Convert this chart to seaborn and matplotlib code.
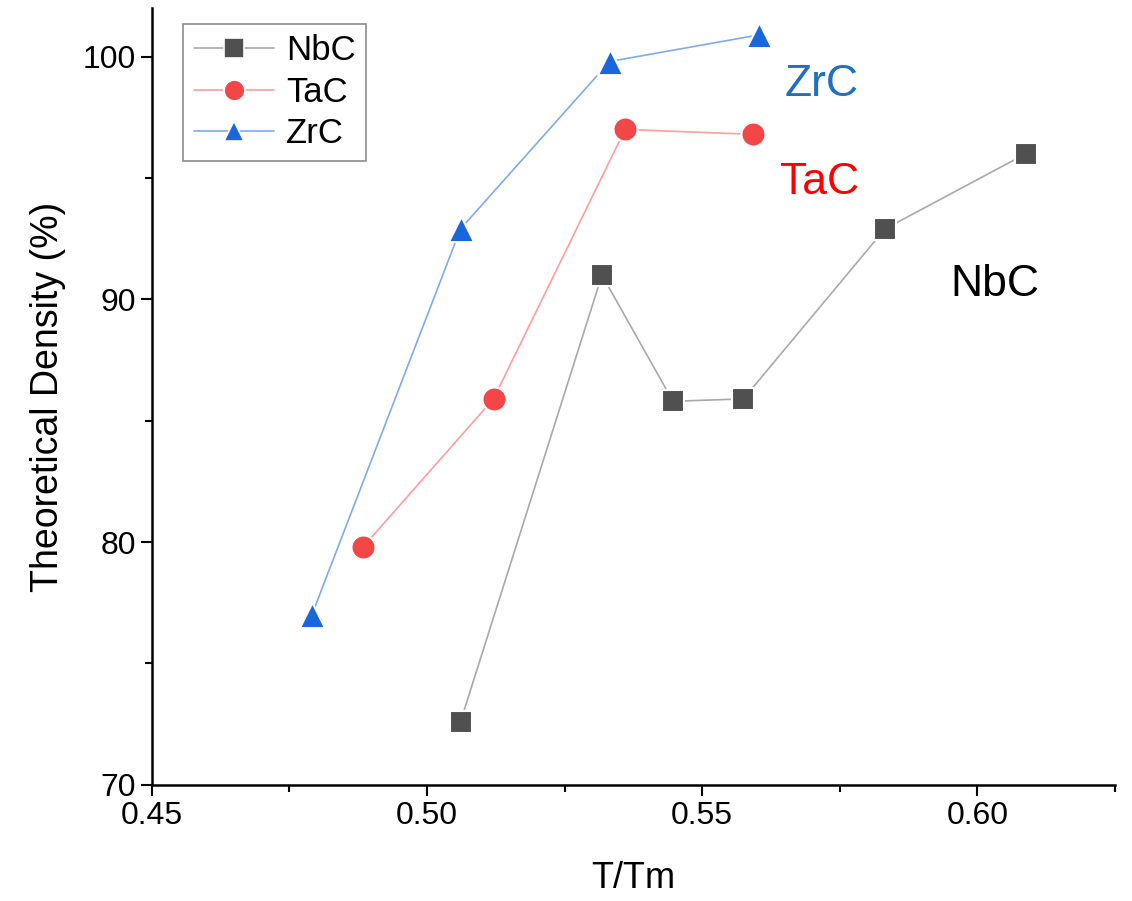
import numpy as np
import pandas as pd
import seaborn as sns
import matplotlib.pyplot as plt
from matplotlib.lines import Line2D
from matplotlib.ticker import MultipleLocator

# Data
nbc_x = [0.5061, 0.5318, 0.5447, 0.5575, 0.5832, 0.6088]
nbc_y = [72.6, 91.0, 85.8, 85.9, 92.9, 96.0]
tac_x = [0.4884, 0.5121, 0.5360, 0.5593]
tac_y = [79.8, 85.9, 97.0, 96.8]
zrc_x = [0.4791, 0.5061, 0.5332, 0.5604]
zrc_y = [77.0, 92.9, 99.8, 100.9]
series = ['NbC', 'TaC', 'ZrC']

# Style
sns.set_style("ticks")
plt.rcParams['font.family'] = ['Liberation Sans', 'DejaVu Sans']
plt.rcParams['text.color'] = 'black'
plt.rcParams['axes.labelcolor'] = 'black'

df = pd.concat([
    pd.DataFrame({'x': nbc_x, 'y': nbc_y, 'mat': 'NbC'}),
    pd.DataFrame({'x': tac_x, 'y': tac_y, 'mat': 'TaC'}),
    pd.DataFrame({'x': zrc_x, 'y': zrc_y, 'mat': 'ZrC'}),
], ignore_index=True)

line_pal = {'NbC': '#a9a9a9', 'TaC': '#ff9c9c', 'ZrC': '#7eaaee'}
mark_pal = {'NbC': '#505050', 'TaC': '#f34646', 'ZrC': '#1a66dc'}
marks = {'NbC': 's', 'TaC': 'o', 'ZrC': '^'}
msize = {'NbC': 240, 'TaC': 300, 'ZrC': 330}
text_col = {'NbC': 'black', 'TaC': '#ff0000', 'ZrC': '#1f6fc2'}

fig, ax = plt.subplots(figsize=(11.32, 9.01), dpi=100)
fig.subplots_adjust(left=0.134, right=0.985, bottom=0.129, top=0.991)

sns.lineplot(data=df, x='x', y='y', hue='mat', palette=line_pal,
             linewidth=1.2, legend=False, ax=ax, zorder=2)
for m in series:
    sub = df[df['mat'] == m]
    sns.scatterplot(data=sub, x='x', y='y', color=mark_pal[m], marker=marks[m],
                    s=msize[m], edgecolor='white', linewidth=1.5,
                    legend=False, ax=ax, zorder=3)

# Axes
ax.set_xlim(0.45, 0.625)
ax.set_ylim(70, 102)
ax.xaxis.set_major_locator(MultipleLocator(0.05))
ax.xaxis.set_minor_locator(MultipleLocator(0.025))
ax.yaxis.set_major_locator(MultipleLocator(10))
ax.yaxis.set_minor_locator(MultipleLocator(5))
ax.xaxis.set_major_formatter(plt.FuncFormatter(lambda v, p: f'{v:.2f}'))
sns.despine(ax=ax)
for s in ['left', 'bottom']:
    ax.spines[s].set_linewidth(1.8)
    ax.spines[s].set_color('black')
ax.tick_params(which='major', length=8, width=1.5, labelsize=23, colors='black')
ax.tick_params(which='minor', length=5, width=1.5, colors='black')
ax.set_xlabel('T/Tm', fontsize=26, labelpad=22)
ax.set_ylabel('Theoretical Density (%)', fontsize=27, labelpad=12)

# Labels beside the curves
ax.text(0.5649, 98.85, 'ZrC', color=text_col['ZrC'], fontsize=32, va='center')
ax.text(0.5642, 94.8, 'TaC', color=text_col['TaC'], fontsize=32, va='center')
ax.text(0.5950, 90.6, 'NbC', color=text_col['NbC'], fontsize=32, va='center')

# Legend
handles = [Line2D([0], [0], color=line_pal[m], lw=1.2, marker=marks[m],
                  markerfacecolor=mark_pal[m], markeredgecolor='white',
                  markeredgewidth=1.2, markersize=15) for m in series]
leg = ax.legend(handles, series, loc='upper left', bbox_to_anchor=(0.033, 0.98),
                fontsize=25, frameon=True, fancybox=False, handlelength=2.3,
                labelspacing=0.25, borderpad=0.3, handletextpad=0.35,
                borderaxespad=0)
leg.get_frame().set_edgecolor('#707070')
leg.get_frame().set_linewidth(1.2)
for t in leg.get_texts():
    t.set_color('black')

plt.savefig('out.png', dpi=100)
